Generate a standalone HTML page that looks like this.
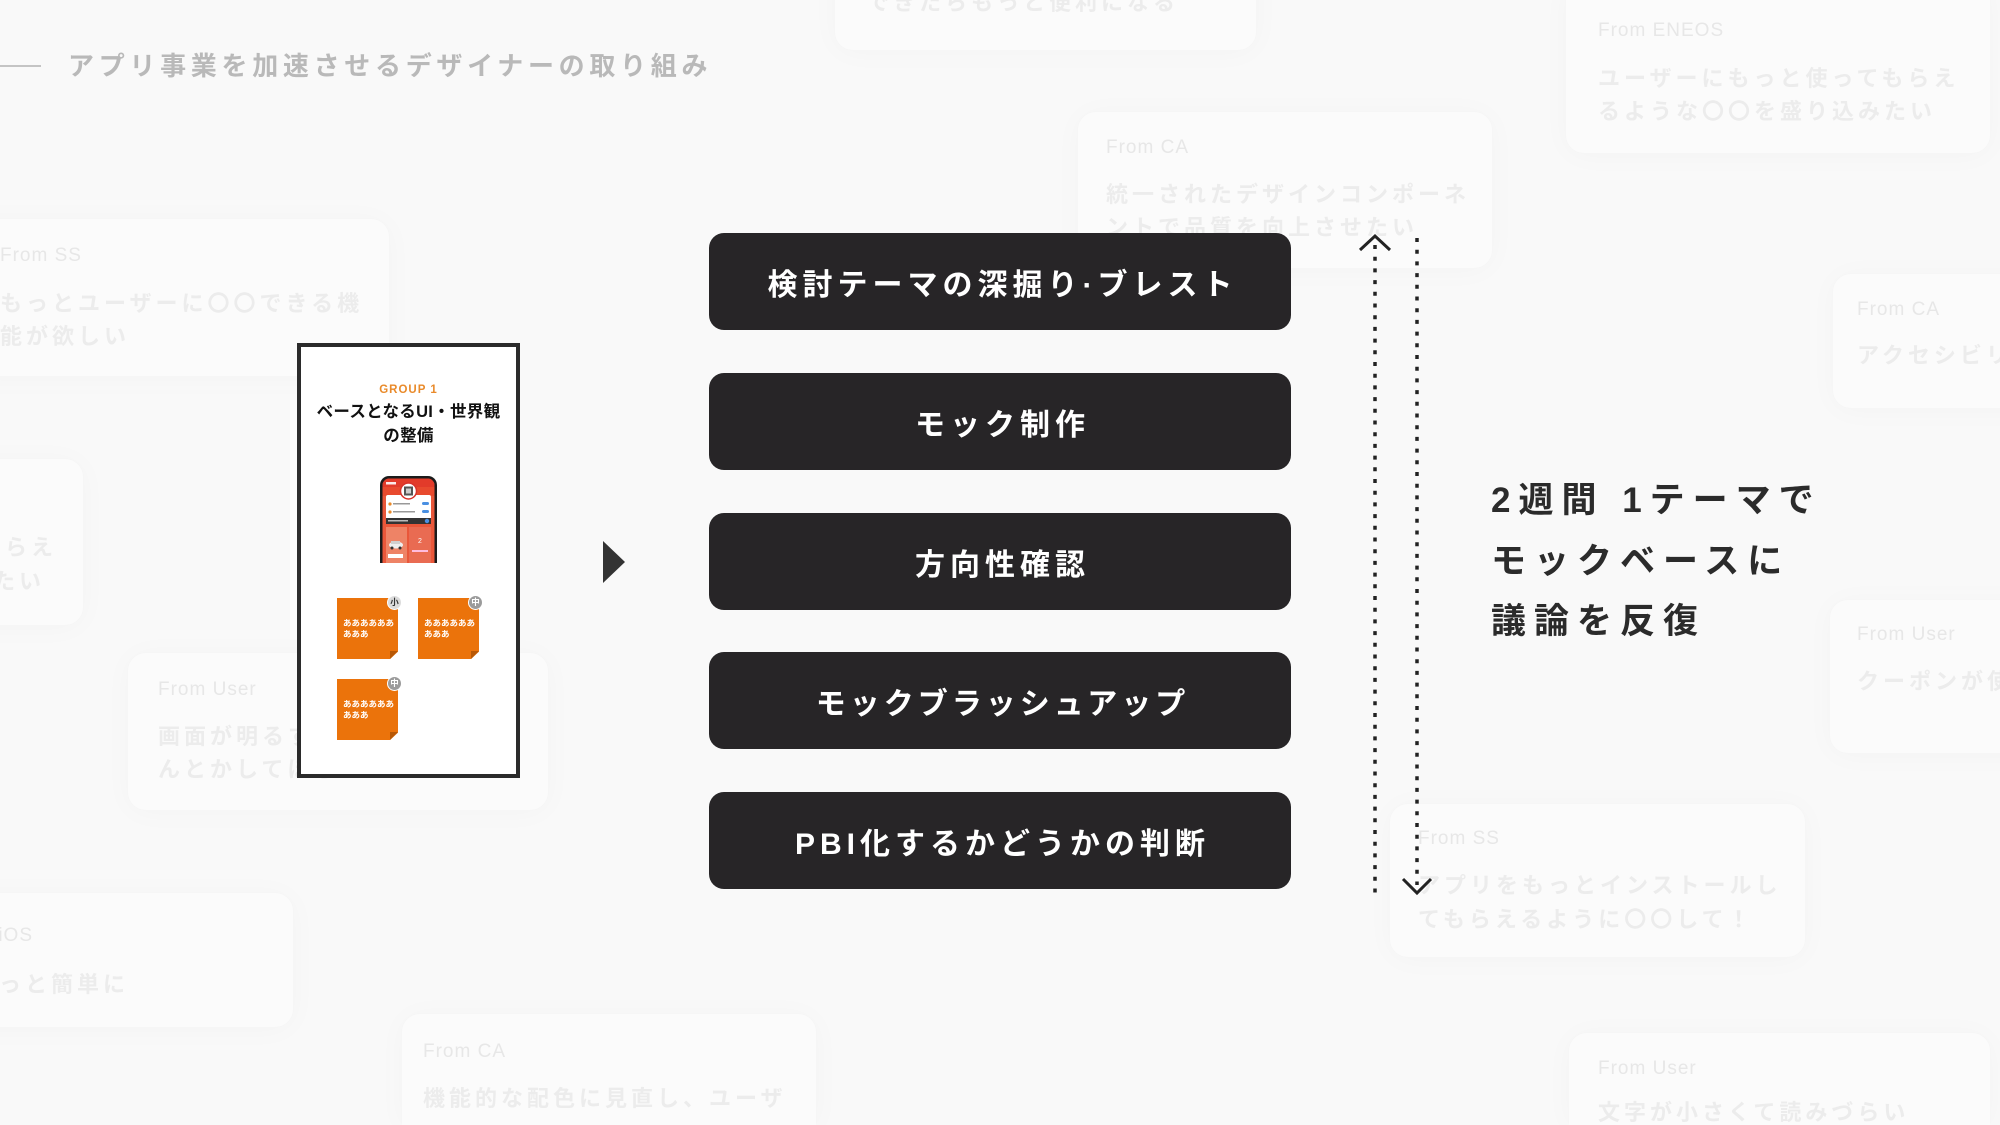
<!DOCTYPE html>
<html lang="ja">
<head>
<meta charset="utf-8">
<style>
  html, body { margin:0; padding:0; }
  body { width:2000px; height:1125px; overflow:hidden; background:#f9f9f9;
    font-family:"Liberation Sans","Noto Sans CJK JP",sans-serif; }
  #wrap { position:relative; width:2000px; height:1125px; overflow:hidden; background:#f9f9f9; }
  .abs { position:absolute; }
  .card {
    position:absolute; background:#fbfbfb; border-radius:18px;
    box-shadow:0 2px 30px rgba(0,0,0,0.028), 0 0 3px rgba(0,0,0,0.012);
  }
  .from {
    position:absolute; font-family:"Liberation Sans",sans-serif; font-size:19px;
    line-height:24px; color:#e7e7e7; letter-spacing:1px; white-space:nowrap;
  }
  .body {
    position:absolute; font-size:22px; line-height:33px; font-weight:700;
    color:#ececec; letter-spacing:4px; white-space:nowrap;
  }
  .title-line { position:absolute; left:0; top:65px; width:41px; height:2px; background:#c4c4c4; }
  .title {
    position:absolute; left:68px; top:49px; font-size:26px; line-height:34px; font-weight:700;
    color:#b9b9b9; letter-spacing:4.7px; white-space:nowrap;
  }
  .step {
    position:absolute; left:709px; width:582px; height:97px; border-radius:15px;
    background:#272527; color:#fff; font-size:30px; font-weight:700; letter-spacing:5px;
    display:flex; align-items:center; justify-content:center; padding-left:5px; box-sizing:border-box;
    white-space:nowrap;
  }
  .group {
    position:absolute; left:297px; top:343px; width:223px; height:435px; box-sizing:border-box;
    border:4px solid #2b2b2b; background:#fff;
  }
  .g1 {
    position:absolute; left:0; width:215px; text-align:center; top:37px;
    font-family:"Liberation Sans",sans-serif; font-weight:700; font-size:11.5px; color:#e98a2a; letter-spacing:1px;
  }
  .gt {
    position:absolute; left:0; width:215px; text-align:center; top:53px;
    font-size:16.5px; line-height:24px; font-weight:700; color:#111; letter-spacing:0.3px; white-space:nowrap;
  }
  .note {
    position:absolute; width:61px; height:61px; background:#eb730b;
    clip-path:polygon(0 0,100% 0,100% 88%,87% 100%,0 100%);
  }
  .fold {
    position:absolute; width:8px; height:8px; background:#b85806;
    clip-path:polygon(100% 0,0 100%,0 0);
  }
  .ntext {
    position:absolute; color:#fff; font-size:8.5px; line-height:11px; font-weight:700; white-space:nowrap;
  }
  .badge {
    position:absolute; width:15px; height:15px; border-radius:50%; box-sizing:border-box;
    border:1.5px solid #fff; font-size:8.5px; line-height:12px; text-align:center; font-weight:700;
  }
  .rt {
    position:absolute; left:1491px; top:471px; font-size:35px; line-height:60.5px; font-weight:700;
    color:#2b2b2b; letter-spacing:8px; white-space:nowrap;
  }
</style>
</head>
<body>
<div id="wrap">

<!-- background cards -->
<div class="card" style="left:835px;top:-110px;width:421px;height:160px;"></div>
<div class="body" style="left:867px;top:-14px;">できたらもっと便利になる</div>

<div class="card" style="left:1566px;top:-20px;width:424px;height:173px;"></div>
<div class="from" style="left:1598px;top:19px;">From ENEOS</div>
<div class="body" style="left:1598px;top:62px;">ユーザーにもっと使ってもらえ</div>
<div class="body" style="left:1598px;top:95px;">るような〇〇を盛り込みたい</div>

<div class="card" style="left:1078px;top:112px;width:414px;height:156px;"></div>
<div class="from" style="left:1106px;top:136px;">From CA</div>
<div class="body" style="left:1106px;top:178px;">統一されたデザインコンポーネ</div>
<div class="body" style="left:1106px;top:211px;">ントで品質を向上させたい</div>

<div class="card" style="left:-30px;top:219px;width:419px;height:157px;"></div>
<div class="from" style="left:0px;top:244px;">From SS</div>
<div class="body" style="left:0px;top:287px;">もっとユーザーに〇〇できる機</div>
<div class="body" style="left:0px;top:320px;">能が欲しい</div>

<div class="card" style="left:1833px;top:274px;width:220px;height:134px;"></div>
<div class="from" style="left:1857px;top:298px;">From CA</div>
<div class="body" style="left:1857px;top:339px;">アクセシビリティを</div>

<div class="card" style="left:-330px;top:459px;width:413px;height:166px;"></div>
<div class="body" style="right:1943px;top:531px;">ユーザーにもっと使ってもらえ</div>
<div class="body" style="right:1955px;top:565px;">るような〇〇を盛り込みたい</div>

<div class="card" style="left:128px;top:653px;width:420px;height:157px;"></div>
<div class="from" style="left:158px;top:678px;">From User</div>
<div class="body" style="left:158px;top:720px;">画面が明るすぎるのでな</div>
<div class="body" style="left:158px;top:753px;">んとかしてほしい</div>

<div class="card" style="left:1830px;top:600px;width:220px;height:153px;"></div>
<div class="from" style="left:1857px;top:623px;">From User</div>
<div class="body" style="left:1857px;top:665px;">クーポンが使いにくい</div>

<div class="card" style="left:1390px;top:804px;width:415px;height:153px;"></div>
<div class="from" style="left:1418px;top:827px;">From SS</div>
<div class="body" style="left:1418px;top:869px;">アプリをもっとインストールし</div>
<div class="body" style="left:1418px;top:903px;">てもらえるように〇〇して！</div>

<div class="card" style="left:-130px;top:893px;width:423px;height:134px;"></div>
<div class="from" style="right:1967px;top:924px;">From iOS</div>
<div class="body" style="left:-27px;top:968px;">もっと簡単に</div>

<div class="card" style="left:402px;top:1014px;width:414px;height:111px;border-radius:18px 18px 0 0;"></div>
<div class="from" style="left:423px;top:1040px;">From CA</div>
<div class="body" style="left:423px;top:1084px;line-height:29px;">機能的な配色に見直し、ユーザ</div>

<div class="card" style="left:1569px;top:1033px;width:421px;height:92px;border-radius:18px 18px 0 0;"></div>
<div class="from" style="left:1598px;top:1057px;">From User</div>
<div class="body" style="left:1598px;top:1100px;line-height:25px;">文字が小さくて読みづらい</div>

<!-- title -->
<div class="title-line"></div>
<div class="title">アプリ事業を加速させるデザイナーの取り組み</div>

<!-- group card -->
<div class="group">
  <div class="g1">GROUP 1</div>
  <div class="gt">ベースとなるUI・世界観<br>の整備</div>
</div>

<!-- phone -->
<svg class="abs" style="left:379px;top:475px;" width="59" height="88" viewBox="0 0 59 88">
  <rect x="1" y="1" width="57" height="110" rx="9" fill="#1b1b1b"/>
  <rect x="3.5" y="3.5" width="52" height="110" rx="7" fill="#e9573a"/>
  <rect x="3.5" y="3.5" width="52" height="17" rx="7" fill="#e23b2a"/>
  <rect x="3.5" y="12" width="52" height="9" fill="#e84a2e"/>
  <rect x="7" y="7" width="10" height="2.5" fill="#fff" opacity="0.9"/>
  <rect x="7" y="20" width="45" height="29" rx="2" fill="#fff"/>
  <circle cx="29.5" cy="16" r="8" fill="#fff" stroke="#d8322a" stroke-width="1.5"/>
  <rect x="25" y="11.5" width="9" height="9" fill="#555"/>
  <rect x="27" y="13.5" width="5" height="5" fill="#ccc"/>
  <circle cx="11" cy="29" r="1.6" fill="#e98a2a"/>
  <rect x="14" y="28" width="17" height="1.5" fill="#999"/>
  <rect x="43" y="27" width="7" height="3" rx="1.5" fill="#4a90e2"/>
  <circle cx="11" cy="37" r="1.6" fill="#e98a2a"/>
  <rect x="14" y="36" width="22" height="1.5" fill="#999"/>
  <rect x="43" y="35" width="7" height="3" rx="1.5" fill="#4a90e2"/>
  <rect x="7" y="43" width="45" height="6" fill="#333"/>
  <rect x="9" y="45" width="20" height="1.5" fill="#bbb"/>
  <circle cx="48" cy="46" r="2.2" fill="#4a90e2"/>
  <rect x="7" y="52" width="21" height="36" fill="#ee8366"/>
  <rect x="30" y="52" width="22" height="36" fill="#e96b52"/>
  <ellipse cx="17" cy="70" rx="7" ry="3.5" fill="#eee"/>
  <rect x="12" y="66" width="9" height="3" fill="#cfcfcf"/>
  <circle cx="13" cy="73" r="1.5" fill="#333"/>
  <circle cx="21" cy="73" r="1.5" fill="#333"/>
  <rect x="9" y="79" width="15" height="4" fill="#fff"/>
  <text x="41" y="68" font-size="7" fill="#fff" text-anchor="middle" font-family="Liberation Sans">2</text>
  <rect x="33" y="75" width="16" height="2" fill="#fbd"/>
</svg>

<!-- sticky notes -->
<div class="note" style="left:337px;top:598px;"></div>
<div class="fold" style="left:390px;top:651px;"></div>
<div class="ntext" style="left:343px;top:618px;">ああああああ<br>あああ</div>
<div class="badge" style="left:387px;top:595px;background:#dcdcdc;color:#333;">小</div>

<div class="note" style="left:418px;top:598px;"></div>
<div class="fold" style="left:471px;top:651px;"></div>
<div class="ntext" style="left:424px;top:618px;">ああああああ<br>あああ</div>
<div class="badge" style="left:468px;top:595px;background:#9b9b9b;color:#fff;">中</div>

<div class="note" style="left:337px;top:679px;"></div>
<div class="fold" style="left:390px;top:732px;"></div>
<div class="ntext" style="left:343px;top:699px;">ああああああ<br>あああ</div>
<div class="badge" style="left:387px;top:676px;background:#9b9b9b;color:#fff;">中</div>

<!-- arrow triangle -->
<svg class="abs" style="left:600px;top:538px;" width="30" height="50">
  <polygon points="3,3 3,45 25,24" fill="#333"/>
</svg>

<!-- steps -->
<div class="step" style="top:233px;">検討テーマの深掘り·ブレスト</div>
<div class="step" style="top:373px;">モック制作</div>
<div class="step" style="top:513px;">方向性確認</div>
<div class="step" style="top:652px;letter-spacing:4px;">モックブラッシュアップ</div>
<div class="step" style="top:792px;">PBI化するかどうかの判断</div>

<!-- dotted arrows -->
<svg class="abs" style="left:1340px;top:225px;" width="110" height="685">
  <line x1="35" y1="20" x2="35" y2="670" stroke="#222" stroke-width="3.5" stroke-dasharray="4 7.7"/>
  <polyline points="20,25 35,11 50,25" fill="none" stroke="#222" stroke-width="3"/>
  <line x1="77" y1="13" x2="77" y2="660" stroke="#222" stroke-width="3.5" stroke-dasharray="4 7.7"/>
  <polyline points="63,654 77,668 91,654" fill="none" stroke="#222" stroke-width="3"/>
</svg>

<!-- right text -->
<div class="rt">2週間 1テーマで<br>モックベースに<br>議論を反復</div>

</div>
</body>
</html>
